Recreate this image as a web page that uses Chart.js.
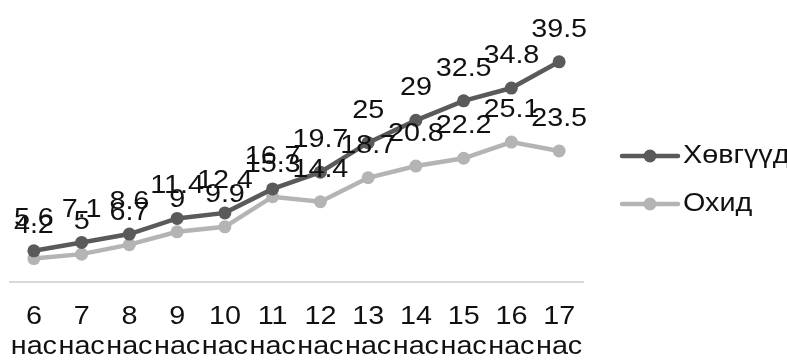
<!DOCTYPE html>
<html>
<head>
<meta charset="utf-8">
<script src="https://cdn.jsdelivr.net/npm/chart.js@4/dist/chart.umd.min.js"></script>
<style>
  html, body { margin: 0; padding: 0; background: #fff; }
  #wrap { width: 787px; height: 360px; }
</style>
</head>
<body>
<div id="wrap"><canvas id="chart"></canvas></div>
<script>
// ─── Data ────────────────────────────────────────────────────────────────
const ages = ['6', '7', '8', '9', '10', '11', '12', '13', '14', '15', '16', '17'];
const ageUnit = 'нас';
const boys = [5.6, 7.1, 8.6, 11.4, 12.4, 16.7, 19.7, 25, 29, 32.5, 34.8, 39.5];
const girls = [4.2, 5, 6.7, 9, 9.9, 15.3, 14.4, 18.7, 20.8, 22.2, 25.1, 23.5];

const FONT = '"Liberation Sans", Arial, sans-serif';
const TEXT = '#111';
const DARK = '#5a5a5a';
const LIGHT = '#b4b4b4';
const STRETCH = 1.15;   // the source text is a bit wider than plain Arial

// ─── Text helper (horizontally stretched) ────────────────────────────────
function wideText(ctx, text, x, y) {
  ctx.save();
  ctx.translate(x, y);
  ctx.scale(STRETCH, 1);
  ctx.fillText(text, 0, 0);
  ctx.restore();
}

// ─── Value labels, x tick labels and legend ─────────────────────────────
const textLayer = {
  id: 'textLayer',
  afterDatasetsDraw(chart) {
    const ctx = chart.ctx;
    ctx.save();
    ctx.font = '25px ' + FONT;
    ctx.fillStyle = TEXT;
    ctx.textBaseline = 'middle';

    // values above points
    ctx.textAlign = 'center';
    chart.data.datasets.forEach((ds, i) => {
      chart.getDatasetMeta(i).data.forEach((pt, j) => {
        wideText(ctx, String(ds.data[j]), pt.x, pt.y - 32);
      });
    });

    // category labels: age on one line, unit below
    const xs = chart.scales.x;
    ages.forEach((a, i) => {
      const x = xs.getPixelForTick(i);
      wideText(ctx, a, x, xs.top + 35);
      wideText(ctx, ageUnit, x, xs.top + 65);
    });

    // legend on the right
    const area = chart.chartArea;
    const midY = chart.height / 2;
    chart.data.datasets.forEach((ds, i) => {
      const y = midY - 24 + i * 48;
      const x0 = area.right + 39;
      ctx.strokeStyle = ds.borderColor;
      ctx.lineWidth = 4.5;
      ctx.lineCap = 'round';
      ctx.beginPath();
      ctx.moveTo(x0, y);
      ctx.lineTo(x0 + 56, y);
      ctx.stroke();
      ctx.fillStyle = ds.borderColor;
      ctx.beginPath();
      ctx.arc(x0 + 28, y, 6.5, 0, Math.PI * 2);
      ctx.fill();
      ctx.fillStyle = TEXT;
      ctx.textAlign = 'left';
      wideText(ctx, ds.label, x0 + 61, y);
    });
    ctx.restore();
  }
};

new Chart(document.getElementById('chart'), {
  type: 'line',
  data: {
    labels: ages.map(a => [a, ageUnit]),
    datasets: [
      {
        label: 'Хөвгүүд',
        data: boys,
        borderColor: DARK,
        backgroundColor: DARK,
        borderWidth: 4.5,
        pointRadius: 6.5,
        pointHoverRadius: 6.5,
        pointBorderWidth: 0,
        tension: 0,
      },
      {
        label: 'Охид',
        data: girls,
        borderColor: LIGHT,
        backgroundColor: LIGHT,
        borderWidth: 4.5,
        pointRadius: 6.5,
        pointHoverRadius: 6.5,
        pointBorderWidth: 0,
        tension: 0,
      },
    ],
  },
  options: {
    responsive: true,
    maintainAspectRatio: false,
    animation: false,
    layout: { padding: { left: 10, top: 10, right: 204, bottom: 0 } },
    plugins: {
      tooltip: { enabled: false },
      legend: { display: false },
    },
    scales: {
      x: {
        offset: true,
        grid: { display: false, drawTicks: false },
        border: { display: true, color: '#d9d9d9', width: 2 },
        ticks: {
          autoSkip: false,
          maxRotation: 0,
          color: 'rgba(0,0,0,0)',
          font: { family: FONT, size: 25, lineHeight: 1.2 },
        },
        afterFit(scale) { scale.height = 78; },
      },
      y: {
        display: false,
        min: 0,
        max: 48.8,
      },
    },
  },
  plugins: [textLayer],
});
</script>
</body>
</html>
